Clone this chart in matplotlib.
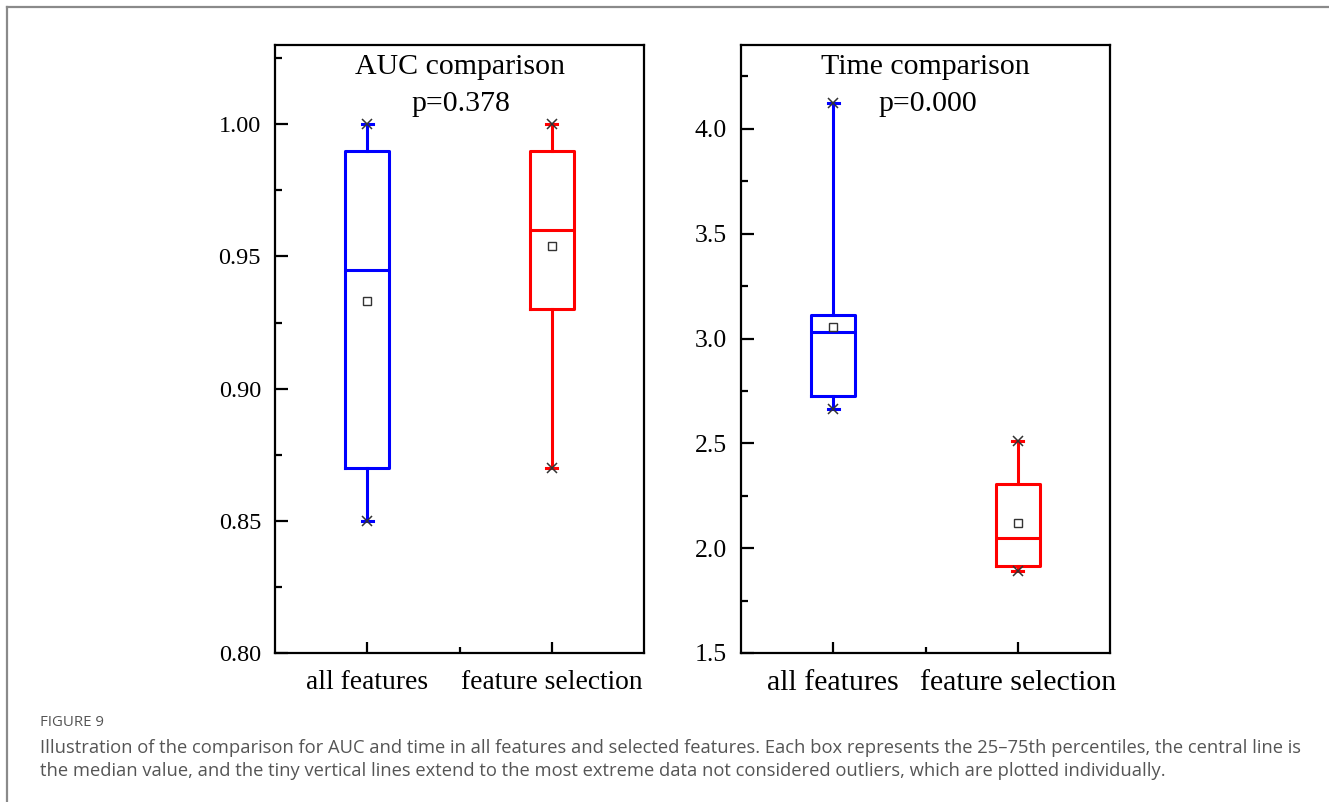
import matplotlib
matplotlib.use("Agg")
import matplotlib.pyplot as plt
from matplotlib.ticker import MultipleLocator
from matplotlib.lines import Line2D

groups = ["all features", "feature selection"]
colors = ["#0000ff", "#ff0000"]

# AUC panel: whisker low, q1, median, q3, whisker high, mean
auc_low = [0.85, 0.87]
auc_q1 = [0.87, 0.93]
auc_med = [0.945, 0.96]
auc_q3 = [0.99, 0.99]
auc_high = [1.00, 1.00]
auc_mean = [0.933, 0.954]

# Time panel
time_low = [2.662, 1.89]
time_q1 = [2.724, 1.914]
time_med = [3.03, 2.048]
time_q3 = [3.11, 2.305]
time_high = [4.124, 2.51]
time_mean = [3.057, 2.119]

plt.rcParams['font.family'] = ['Liberation Serif', 'DejaVu Serif']

fig = plt.figure(figsize=(13.29, 8.02), dpi=100)


def make_stats(low, q1, med, q3, high, mean):
    stats = []
    for i in range(len(low)):
        stats.append(dict(whislo=low[i], q1=q1[i], med=med[i], q3=q3[i],
                          whishi=high[i], mean=mean[i], fliers=[]))
    return stats


def draw_panel(ax, stats, title, pval, ylim, major, minor, fmt, ysize, xsize):
    lw = 2.2
    for i, st in enumerate(stats):
        c = colors[i]
        ax.bxp([st], positions=[i + 1], widths=0.24, showmeans=True,
               showcaps=True, capwidths=0.06,
               boxprops=dict(color=c, linewidth=lw),
               whiskerprops=dict(color=c, linewidth=lw),
               capprops=dict(color=c, linewidth=lw),
               medianprops=dict(color=c, linewidth=lw),
               meanprops=dict(marker='s', markerfacecolor='white',
                              markeredgecolor='#333333', markersize=6,
                              markeredgewidth=1.0))
        ax.plot([i + 1, i + 1], [st['whislo'], st['whishi']], linestyle='none',
                marker='x', color='#333333', markersize=6.5, markeredgewidth=1.1)
    ax.set_xlim(0.5, 2.5)
    ax.set_ylim(*ylim)
    ax.set_xticks([1, 2])
    ax.set_xticklabels(groups)
    ax.set_xticks([1.5], minor=True)
    ax.yaxis.set_major_locator(MultipleLocator(major))
    ax.yaxis.set_minor_locator(MultipleLocator(minor))
    ax.yaxis.set_major_formatter(fmt)
    for s in ax.spines.values():
        s.set_linewidth(1.6)
    ax.tick_params(axis='both', which='both', direction='in', width=1.6,
                   top=False, right=False)
    ax.tick_params(axis='y', which='major', length=9, labelsize=ysize, pad=10)
    ax.tick_params(axis='y', which='minor', length=5)
    ax.tick_params(axis='x', which='major', length=8, labelsize=xsize, pad=12)
    ax.tick_params(axis='x', which='minor', length=4)
    ax.text(0.5, 0.985, title, transform=ax.transAxes, ha='center', va='top',
            fontsize=21.5)
    ax.text(0.505, 0.925, pval, transform=ax.transAxes, ha='center', va='top',
            fontsize=21.5)


ax1 = fig.add_axes([0.2069, 0.1858, 0.2777, 0.7581])
draw_panel(ax1, make_stats(auc_low, auc_q1, auc_med, auc_q3, auc_high, auc_mean),
           "AUC comparison", "p=0.378", (0.80, 1.03), 0.05, 0.025, '{x:.2f}',
           17.5, 19.8)

ax2 = fig.add_axes([0.5576, 0.1858, 0.2777, 0.7581])
draw_panel(ax2, make_stats(time_low, time_q1, time_med, time_q3, time_high, time_mean),
           "Time comparison", "p=0.000", (1.5, 4.4), 0.5, 0.25, '{x:.1f}',
           18.5, 21.5)

# outer frame (left and top edge only)
fig.add_artist(Line2D([7 / 1329, 7 / 1329], [0, 1 - 7 / 802], color='#8a8a8a',
                      linewidth=1.6, transform=fig.transFigure))
fig.add_artist(Line2D([7 / 1329, 1], [1 - 7 / 802, 1 - 7 / 802], color='#8a8a8a',
                      linewidth=1.6, transform=fig.transFigure))

cap_font = ['Open Sans', 'DejaVu Sans']
fig.text(40 / 1329, 1 - 722 / 802, "FIGURE 9", fontsize=10.8, color='#555555',
         family=cap_font, va='center')
fig.text(40 / 1329, 1 - 748 / 802,
         "Illustration of the comparison for AUC and time in all features and selected features. "
         "Each box represents the 25\u201375th percentiles, the central line is",
         fontsize=13.25, color='#555555', family=cap_font, va='center')
fig.text(40 / 1329, 1 - 771 / 802,
         "the median value, and the tiny vertical lines extend to the most extreme data not "
         "considered outliers, which are plotted individually.",
         fontsize=13.25, color='#555555', family=cap_font, va='center')

fig.savefig("out.png", dpi=100)
